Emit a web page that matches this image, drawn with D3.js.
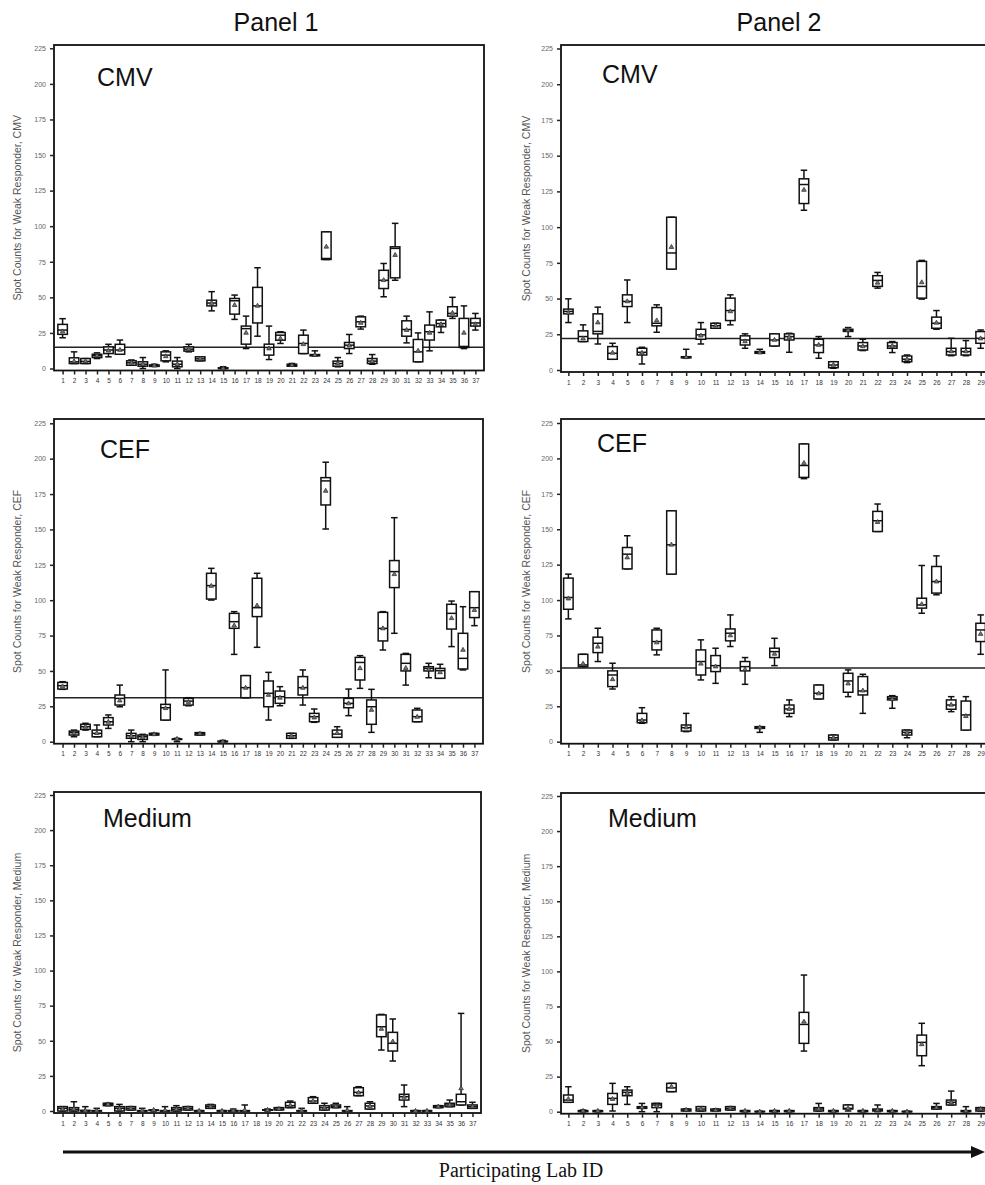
<html>
<head>
<script src="https://cdn.jsdelivr.net/npm/d3@7"></script>
<style>
  body { margin: 0; background: #fff; }
  svg { display: block; }
</style>
</head>
<body>
<div id="chart"></div>
<script>
// lab ids on the x axis
var labs1 = ["1","2","3","4","5","6","7","8","9","10","11","12","13","14","15","16","17","18","19","20",
             "21","22","23","24","25","26","27","28","29","30","31","32","33","34","35","36","37"];
var labs2 = ["1","2","3","4","5","6","7","8","9","10","11","12","13","14","15","16","17","18","19","20",
             "21","22","23","24","25","26","27","28","29"];
var yTicks = [0, 25, 50, 75, 100, 125, 150, 175, 200, 225];

// [low whisker, q1, median, q3, high whisker, mean]
var p1CMV = [
  [21.6,24,27,31,35,26],[3.5,3.5,4.7,7.5,11.7,5],[3.5,3.5,5,7,7,5],[7,7.7,9,10,11,9],
  [8.2,10.5,13,15.2,17,12.5],[10,10,13,17,20,13],[2.3,2.3,4,5.4,6,4],[0,1.6,3,4.7,7.7,3],
  [1.5,1.5,2,2.5,3,2],[4.7,5.4,9.4,11.7,12.4,8.5],[0,1.2,3,5.2,7.7,3],[11.7,12.2,13.6,15.2,17,13.5],
  [5.4,5.4,6.8,8.2,8.2,6.8],[40.5,44,46,48,54,46],[0,0,0,0.5,1.2,0],[34.5,38.2,47.6,49.2,51.6,44.5],
  [14,17.1,28,29.8,36.8,25],[22.7,32,44,57,70.8,44],[6.3,9.4,14.8,17.1,29.8,14],[17.6,19.9,23.4,25.3,25.8,21],
  [1.6,1.6,2.3,3,3.5,2.3],[10.5,10.5,17.6,23.4,27,17],[8.9,8.9,9.4,9.8,12.4,9.4],[76.6,76.6,77.3,96,96,85.5],
  [1.2,1.6,3.5,5.2,7.7,3.5],[10.5,14,16.4,18.3,23.9,16],[27.7,29.3,32.8,36.3,36.8,32],[3,3.5,5.2,7,9.8,5],
  [50.4,56.2,62,69,73.8,62],[62,63.7,84.4,85.5,102,79.7],[18,22.7,27.4,33.5,36.8,27],[4.7,4.7,11.7,20.4,25,12.4],
  [12.4,20,25.8,30.5,39.8,25],[25.3,29.3,31.6,34,34,31],[35.2,36.8,38.7,43.4,50,39],[14,14.8,15.5,35.2,44,25],
  [27,29.8,32,35.2,38.7,31]
];
var p2CMV = [
  [33.2,39.3,41,42.6,49.8,40],[19.9,19.9,23.4,27.4,31.6,22],[18.2,25.3,27,39.3,44,33.2],[7.5,7.5,11.7,16.4,18.7,12],
  [33.2,44.4,48,52.6,63,48],[4.2,10.5,12.4,15.2,15.9,12],[26.4,30.9,32.7,43.7,45.6,34.6],[70.6,70.6,81.9,106.9,106.9,86],
  [8.5,8.5,8.9,9.3,14.5,8.9],[18.2,21.5,24.6,28.5,33.2,24],[29.2,29.2,31,32.7,32.7,31],[31.6,34.6,41.6,50.3,52.6,41],
  [15.2,17.5,21,23.9,25.3,20],[11.7,11.7,12.2,12.9,14.5,12.2],[16.8,16.8,21,25.3,25.3,21],[12.4,21,23.4,25.3,25.7,23],
  [111.8,116.5,129.8,133.8,139.8,126],[8.2,12.2,17.5,21.5,23.4,17.5],[1.2,1.6,3.5,5.8,5.8,3.5],[23.4,27,27.8,28.5,29.7,27.8],
  [13.6,14,16.8,19.2,21.5,16.5],[57.3,58.5,62.7,66,68.3,61],[12.2,15.2,16.8,19.2,19.9,16.8],[5.2,5.8,7.5,9.8,10.5,7.5],
  [49.6,50.3,58.5,76,76.7,61.3],[28.5,29.2,32.7,37,41.6,33],[10,10.5,12.9,15.2,22.2,13],[10,10.5,12.9,15.2,20.6,13],
  [15.2,18.7,22.2,26.9,28,22]
];
var p1CEF = [
  [37,37.2,39.6,41.9,42.4,39],[3.5,4.7,6.4,7.5,8.2,6],[8.2,8.7,10.6,12.3,13,10.5],[3.5,3.5,5.9,8.2,11.8,6],
  [9.4,11.8,14.1,17,18.9,14],[24.7,25.9,30.6,33,40,29],[0,2.4,4.2,5.9,8.2,4],[0,1.6,3.5,4.7,5.2,3],
  [4.7,4.7,5.2,5.9,5.9,5.2],[15.3,15.3,24,26.4,50.7,23.6],[0,1.9,1.9,1.9,2.4,1.9],[25.4,25.9,28.7,30.6,31.1,28],
  [4.7,4.7,5.6,6.4,6.4,5.6],[100.1,100.8,110.3,119,122.5,110],[0,0,0,0.4,0.9,0],[61.7,80.1,84.8,90.7,91.9,82],
  [31.1,31.1,38.2,46.7,46.7,38],[66.7,88.4,94.7,115.5,119,96.1],[15.3,24.7,34.2,42.9,49,33],[25.4,27.1,31.8,35.8,38.9,31],
  [2.4,2.4,4.2,5.9,5.9,4],[25.9,33,38.2,46,50.7,38],[13.7,14.1,17.7,20,23.1,17],[150.3,167.3,184.3,186.6,197.5,177.2],
  [3.1,3.1,5.4,8.2,10.6,6],[18.4,24,27.1,30.6,37.2,27],[37.7,43.6,56,59.6,60.8,51.8],[6.6,12.3,24.7,29.5,37,22.4],
  [64.8,71.2,80.1,91.4,91.9,80],[76.6,108.9,120.2,128,158.3,118.3],[40,50,55.4,61.7,62.4,52],[14.1,14.1,17.7,22.4,23.6,17.5],
  [45.2,50,51.8,53,55.4,51],[44.8,44.8,50.2,51.8,54.7,49],[67.2,79.6,90.7,97.1,99.4,87.2],[50.7,51.4,58.9,76.6,95.4,64.8],
  [82,87.7,94.7,106,106,93]
];
var p2CEF = [
  [86.7,93.5,101.8,115.5,118.3,101],[53,53,54.2,61.7,61.7,55],[56.6,62.9,69.5,73.8,80.1,67],[37.2,38.9,47.1,50,55.4,44],
  [122,122,132.4,137.1,145.4,130],[13,13.4,15.3,20,24,15],[61.3,64.8,70.7,78.9,80.1,70],[118.3,118.3,139,163,163,139],
  [7.1,7.5,9.9,11.8,20,10],[43.6,47.1,56.6,64.8,71.9,55],[41.2,49.5,53.7,60.8,66,53],[67.2,71.2,76.6,79.6,89.5,75],
  [40.5,50,53,56.6,59.4,51],[6.6,9.4,10,10.6,10.6,10],[53.7,59.4,63.6,66,73,62],[17.7,20,23.1,25.9,29.5,23],
  [185.7,186.6,195,210.2,210.2,196.7],[30.2,30.2,34.2,40,40,34],[1.2,1.2,2.8,4.7,4.7,2.8],[31.8,34.9,42.9,48.3,50.7,41],
  [20,33,35.8,46,47.6,36],[148.4,148.4,156,162.6,167.8,155],[23.6,29.5,30.6,31.8,32.5,30],[2.8,4.7,6.6,8.2,8.2,6.5],
  [90.7,94.3,96.6,101.3,124.4,97],[103.7,104.9,113.1,123.7,131.2,113],[21.2,22.9,25.9,29.5,31.8,26],[8.2,8.2,18.9,28.7,31.8,18],
  [61.7,70.7,78.9,83.6,89.5,76]
];
var p1Med = [
  [0,0,1.9,3.1,3.1,1.5],[0,0,1.2,2.4,6.6,1.5],[0,0,0,0.5,3.1,0.3],[0,0,0,0.3,1.9,0.3],
  [3.8,3.8,4.7,5.5,5.5,4.7],[0,0,1.9,3.1,4.7,1.5],[0.7,0.7,1.9,3.1,3.1,1.9],[0,0,0,0.3,1.9,0.3],
  [0,0.7,0.7,0.7,0.7,0.7],[0,0,0,0.3,3.1,0.5],[0,0,1.2,2.4,3.8,1.2],[0.7,0.7,1.9,3.1,3.1,1.9],
  [0,0,0,0.3,0.3,0],[1.9,1.9,3.1,4.3,4.7,3.1],[0,0,0,0.3,0.3,0],[0,0,0,0.3,1.4,0.3],
  [0,0,0,0.3,4.3,0.5],null,[0,0.7,0.7,0.9,1.4,0.7],[0.7,0.7,1.4,2.4,2.4,1.4],
  [2.4,2.4,3.8,6.2,7.1,4],[0,0,0,0.3,1.9,0.3],[5.5,5.5,7.1,9.5,10.2,7.1],[0.7,0.7,2.4,3.8,5.5,2.4],
  [2.4,2.4,3.3,4.3,5.5,3.3],[0,0,0,0.3,3.1,0.5],[10.9,10.9,13.3,16.6,17.3,13],[1.4,1.4,3.6,5.5,6.6,3.5],
  [43.4,52.9,60,68.4,68.8,58.4],[35.6,42.7,48.2,56,65.5,49.4],[3.1,7.8,10.2,11.9,18.5,10],[0,0,0,0.3,0.3,0],
  [0,0,0,0.3,0.3,0],[2.4,2.4,3.1,3.8,3.8,3.1],[3.1,3.1,4.3,5.5,7.8,4.3],[4.3,4.3,6.6,11.9,69.5,16.1],
  [1.9,1.9,3.1,4.3,6.2,3.1]
];
var p2Med = [
  [6.7,6.7,8.3,11.9,17.8,9],[0,0,0.5,0.8,1.2,0.5],[0,0,0.5,0.8,0.8,0.5],[0.5,5.2,9.5,13,20.2,9],
  [5.2,11.4,13.8,15.4,17.8,13],[0,2.4,2.9,3.6,5.9,3],[0,2.9,4.8,5.9,5.9,4],[14.3,14.3,17,20.2,20.2,17.8],
  [0.5,0.5,1.2,1.9,1.9,1.2],[0.5,0.5,1.9,3.6,3.6,1.9],[0.5,0.5,1,1.9,1.9,1],[1.2,1.2,2.4,3.6,3.6,2.4],
  [0,0,0.5,0.8,0.8,0.5],[0,0,0,0.3,0.3,0],[0,0,0.5,0.8,0.8,0.5],[0,0,0.5,0.8,0.8,0.5],
  [43.2,48.7,62.2,70.8,97.4,64.1],[0.5,0.5,1.9,2.9,5.9,1.9],[0,0,0.5,0.8,0.8,0.5],[0.5,1.9,2.4,4.8,4.8,2.4],
  [0,0,0.5,0.8,0.8,0.5],[0,0.5,1.2,1.9,4.8,1.2],[0,0,0.5,0.8,0.8,0.5],[0,0,0,0.3,0.3,0],
  [32.8,39.9,49.4,54.6,63,48],[1.9,1.9,2.9,3.6,5.9,2.9],[4.8,4.8,6.7,8.3,14.7,6.5],[0,0,0.5,0.8,3.6,0.5],
  [0.5,0.5,1.9,2.9,2.9,1.9]
];
// horizontal reference lines (null = none)
var refCMV = [15, 22];
var refCEF = [31, 52];
var refMed = [null, null];

var W = 985, H = 1185;
var svg = d3.select("#chart").append("svg").attr("width", W).attr("height", H);
svg.append("rect").attr("width", W).attr("height", H).attr("fill", "#fff");

// layout for each panel (panel 2 runs on past the right edge, as in the original)
var panels = [
  {name:"CMV",    stats:p1CMV, labs:labs1, ref:refCMV[0], left:54,  right:484, xr:484, top:45,  y0:368.5, y1:48.3,  ylab:17,  lx:97,  ly:86},
  {name:"CMV",    stats:p2CMV, labs:labs2, ref:refCMV[1], left:561, right:993, xr:988, top:45,  y0:370,   y1:48.5,  ylab:526, lx:602, ly:83},
  {name:"CEF",    stats:p1CEF, labs:labs1, ref:refCEF[0], left:54,  right:483, xr:483, top:419, y0:741.7, y1:423.3, ylab:17,  lx:100, ly:458},
  {name:"CEF",    stats:p2CEF, labs:labs2, ref:refCEF[1], left:561, right:993, xr:988, top:419, y0:741.7, y1:423,   ylab:526, lx:597, ly:452},
  {name:"Medium", stats:p1Med, labs:labs1, ref:refMed[0], left:54,  right:481, xr:481, top:792, y0:1111,  y1:795,   ylab:17,  lx:103, ly:827},
  {name:"Medium", stats:p2Med, labs:labs2, ref:refMed[1], left:561, right:993, xr:988, top:793, y0:1111.7,y1:796,   ylab:526, lx:608, ly:827}
];

panels.forEach(function(p, pi) {
  var g = svg.append("g");
  var x = d3.scalePoint().domain(p.labs).range([p.left, p.xr]).padding(pi % 2 == 0 ? 0.75 : 0.5);
  var y = d3.scaleLinear().domain([0, 225]).range([p.y0, p.y1]);
  var base = p.y0 + 2;

  // frame
  g.append("rect").attr("x", p.left).attr("y", p.top)
    .attr("width", p.right - p.left).attr("height", base - p.top)
    .attr("fill", "none").attr("stroke", "#111").attr("stroke-width", 1.8);

  // y axis
  var ya = g.append("g").attr("transform", "translate(" + p.left + ",0)")
    .call(d3.axisLeft(y).tickValues(yTicks).tickSize(4).tickPadding(4));
  ya.select(".domain").remove();
  ya.selectAll("line").attr("stroke", "#222").attr("stroke-width", 1.5);
  ya.selectAll("text").attr("fill", "#666").style("font-family", "Liberation Sans, Arial, sans-serif").style("font-size", "7px");

  // x axis
  var xa = g.append("g").attr("transform", "translate(0," + base + ")")
    .call(d3.axisBottom(x).tickSize(4).tickPadding(4));
  xa.select(".domain").remove();
  xa.selectAll("line").attr("stroke", "#222").attr("stroke-width", 1.5);
  xa.selectAll("text").attr("fill", "#333").style("font-family", "Liberation Sans Narrow, Liberation Sans, Arial, sans-serif").style("font-size", "6.5px");

  // y axis title
  g.append("text")
    .attr("transform", "translate(" + (p.ylab + 3.5) + "," + ((p.top + base) / 2) + ") rotate(-90)")
    .attr("text-anchor", "middle")
    .attr("fill", "#555")
    .style("font-family", "Liberation Sans, Arial, sans-serif").style("font-size", "10.5px")
    .text("Spot Counts for Weak Responder, " + p.name);

  // panel label
  g.append("text").attr("x", p.lx).attr("y", p.ly)
    .style("font-family", "Liberation Sans, Arial, sans-serif").style("font-size", "25px")
    .attr("fill", "#111").text(p.name);

  // reference line
  if (p.ref != null) {
    g.append("line").attr("x1", p.left).attr("x2", p.right)
      .attr("y1", y(p.ref)).attr("y2", y(p.ref))
      .attr("stroke", "#222").attr("stroke-width", 1.5);
  }

  // boxes
  var bw = 9.5, cw = 6.5;
  var items = p.stats.map(function(s, i) { return {lab: p.labs[i], s: s}; }).filter(function(d) { return d.s; });
  var bx = g.selectAll(".bx").data(items).enter().append("g")
    .attr("transform", function(d) { return "translate(" + x(d.lab) + ",0)"; })
    .attr("stroke", "#111").attr("stroke-width", 1.5).attr("fill", "none");

  bx.append("line").attr("x1", 0).attr("x2", 0)
    .attr("y1", function(d) { return y(d.s[4]); }).attr("y2", function(d) { return y(d.s[3]); });
  bx.append("line").attr("x1", 0).attr("x2", 0)
    .attr("y1", function(d) { return y(d.s[1]); }).attr("y2", function(d) { return y(d.s[0]); });
  bx.append("line").attr("x1", -cw / 2).attr("x2", cw / 2)
    .attr("y1", function(d) { return y(d.s[4]); }).attr("y2", function(d) { return y(d.s[4]); });
  bx.append("line").attr("x1", -cw / 2).attr("x2", cw / 2)
    .attr("y1", function(d) { return y(d.s[0]); }).attr("y2", function(d) { return y(d.s[0]); });
  bx.append("rect").attr("x", -bw / 2).attr("width", bw)
    .attr("y", function(d) { return y(d.s[3]); })
    .attr("height", function(d) { return Math.max(0.5, y(d.s[1]) - y(d.s[3])); })
    .attr("fill", "#fff");
  bx.append("line").attr("x1", -bw / 2).attr("x2", bw / 2)
    .attr("y1", function(d) { return y(d.s[2]); }).attr("y2", function(d) { return y(d.s[2]); });
  bx.append("path")
    .attr("d", d3.symbol(d3.symbolTriangle).size(9))
    .attr("transform", function(d) { return "translate(0," + y(d.s[5]) + ")"; })
    .attr("stroke-width", 0.8).attr("stroke", "#333").attr("fill", "#777");
});

// column titles
svg.append("text").attr("x", 276).attr("y", 31).attr("text-anchor", "middle")
  .style("font-family", "Liberation Sans, Arial, sans-serif").style("font-size", "25px").attr("fill", "#111")
  .text("Panel 1");
svg.append("text").attr("x", 779).attr("y", 31).attr("text-anchor", "middle")
  .style("font-family", "Liberation Sans, Arial, sans-serif").style("font-size", "25px").attr("fill", "#111")
  .text("Panel 2");

// arrow along the bottom
svg.append("line").attr("x1", 63).attr("x2", 973).attr("y1", 1152).attr("y2", 1152)
  .attr("stroke", "#111").attr("stroke-width", 3);
svg.append("path").attr("d", "M971,1146L985,1152L971,1158Z").attr("fill", "#111");

svg.append("text").attr("x", 521).attr("y", 1177).attr("text-anchor", "middle")
  .style("font-family", "Liberation Serif, Times New Roman, serif").style("font-size", "20px").attr("fill", "#111")
  .text("Participating Lab ID");
</script>
</body>
</html>
